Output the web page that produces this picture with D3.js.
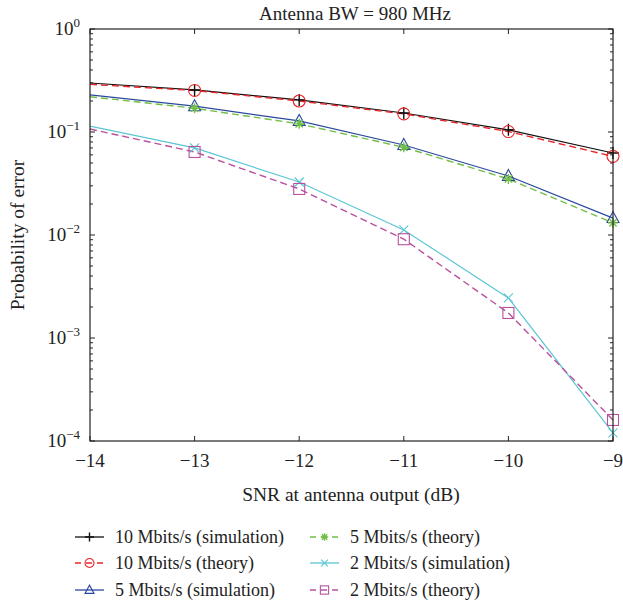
<!DOCTYPE html>
<html>
<head>
<meta charset="utf-8">
<script src="https://cdn.jsdelivr.net/npm/d3@7"></script>
<style>
  body { margin: 0; background: #fff; }
</style>
</head>
<body>
<div id="grafica"></div>
<script>
// ==============================
// DATOS
// ==============================
const snr = [-14, -13, -12, -11, -10, -9];
const sim10 = [0.299, 0.256, 0.205, 0.153, 0.105, 0.0625];
const teo10 = [0.290, 0.253, 0.200, 0.150, 0.101, 0.058];
const sim5 = [0.229, 0.178, 0.128, 0.0748, 0.0374, 0.0146];
const teo5 = [0.220, 0.170, 0.120, 0.071, 0.035, 0.0131];
const sim2 = [0.114, 0.070, 0.0327, 0.0112, 0.00245, 0.00012];
const teo2 = [0.107, 0.064, 0.028, 0.0091, 0.00175, 0.00016];
const xTicks = [-14, -13, -12, -11, -10, -9];
const yExps = [0, -1, -2, -3, -4];

const series = [
  { nombre: "10 Mbits/s (simulation)", valores: sim10, color: "#111", dash: null, marca: "plus" },
  { nombre: "10 Mbits/s (theory)", valores: teo10, color: "#e8262a", dash: "7,4", marca: "circle" },
  { nombre: "5 Mbits/s (simulation)", valores: sim5, color: "#2a4a9e", dash: null, marca: "triangle" },
  { nombre: "5 Mbits/s (theory)", valores: teo5, color: "#72bf44", dash: "7,4", marca: "star" },
  { nombre: "2 Mbits/s (simulation)", valores: sim2, color: "#5cc6d4", dash: null, marca: "cross" },
  { nombre: "2 Mbits/s (theory)", valores: teo2, color: "#b9519e", dash: "7,4", marca: "square" }
];

// ==============================
// SVG Y ESCALAS
// ==============================
const W = 623, H = 606;
const m = { left: 90, right: 613, top: 29, bottom: 441 };
const FUENTE = "Liberation Serif";
const colorTexto = "#222";

const svg = d3.select("#grafica").append("svg")
  .attr("width", W).attr("height", H);

const x = d3.scaleLinear().domain([-14, -9]).range([m.left, m.right]);
const y = d3.scaleLog().domain([1e-4, 1]).range([m.bottom, m.top]);

function texto(px, py, cadena, size, anchor) {
  return svg.append("text")
    .attr("x", px).attr("y", py)
    .attr("font-family", FUENTE)
    .attr("font-size", size)
    .attr("fill", colorTexto)
    .attr("text-anchor", anchor || "start")
    .text(cadena);
}

// ==============================
// EJES (ticks hacia dentro)
// ==============================
const ejes = svg.append("g").attr("stroke", "#222").attr("stroke-width", 1);

xTicks.forEach(t => {
  ejes.append("line").attr("x1", x(t)).attr("x2", x(t)).attr("y1", m.bottom).attr("y2", m.bottom - 5);
  ejes.append("line").attr("x1", x(t)).attr("x2", x(t)).attr("y1", m.top).attr("y2", m.top + 5);
});

const menores = [];
for (let e = -4; e < 0; e++) {
  for (let k = 2; k <= 9; k++) menores.push(k * Math.pow(10, e));
}
menores.forEach(v => {
  ejes.append("line").attr("x1", m.left).attr("x2", m.left + 3).attr("y1", y(v)).attr("y2", y(v));
  ejes.append("line").attr("x1", m.right).attr("x2", m.right - 3).attr("y1", y(v)).attr("y2", y(v));
});
yExps.forEach(e => {
  const v = Math.pow(10, e);
  ejes.append("line").attr("x1", m.left).attr("x2", m.left + 5).attr("y1", y(v)).attr("y2", y(v));
  ejes.append("line").attr("x1", m.right).attr("x2", m.right - 5).attr("y1", y(v)).attr("y2", y(v));
});

// ==============================
// LÍNEAS Y MARCADORES
// ==============================
const linea = d3.line().x((d, i) => x(snr[i])).y(d => y(d));
const plot = svg.append("g");

function dibujarMarca(g, tipo, cx, cy, color, k = 1) {
  const s = g.append("g").attr("transform", `translate(${cx},${cy}) scale(${k})`)
    .attr("stroke", color).attr("fill", "none").attr("stroke-width", 1.1 / k);
  if (tipo === "plus") {
    s.append("path").attr("d", "M-6,0H6M0,-6V6").attr("stroke-width", 1.4 / k);
  } else if (tipo === "circle") {
    s.append("circle").attr("r", 6);
  } else if (tipo === "triangle") {
    s.append("path").attr("d", "M0,-6.5L6,4.5L-6,4.5Z");
  } else if (tipo === "star") {
    s.append("path").attr("d", "M-5,0H5M0,-5V5M-3.6,-3.6L3.6,3.6M-3.6,3.6L3.6,-3.6").attr("stroke-width", 1.4 / k);
  } else if (tipo === "cross") {
    s.append("path").attr("d", "M-4.5,-4.5L4.5,4.5M-4.5,4.5L4.5,-4.5");
  } else if (tipo === "square") {
    s.append("rect").attr("x", -5.5).attr("y", -5.5).attr("width", 11).attr("height", 11);
  }
}

series.forEach(s => {
  plot.append("path")
    .datum(s.valores)
    .attr("d", linea)
    .attr("fill", "none")
    .attr("stroke", s.color)
    .attr("stroke-width", s.dash ? 1.4 : 1.2)
    .attr("stroke-dasharray", s.dash);
});
series.forEach(s => {
  s.valores.forEach((v, i) => {
    if (i === 0) return;
    dibujarMarca(plot, s.marca, x(snr[i]), y(v), s.color);
  });
});

// marco
svg.append("rect")
  .attr("x", m.left).attr("y", m.top)
  .attr("width", m.right - m.left).attr("height", m.bottom - m.top)
  .attr("fill", "none").attr("stroke", "#222").attr("stroke-width", 1.2);

// ==============================
// ETIQUETAS
// ==============================
xTicks.forEach(t => {
  texto(x(t), m.bottom + 26, "\u2212" + Math.abs(t), 19, "middle");
});

yExps.forEach(e => {
  const tx = texto(m.left - 10, y(Math.pow(10, e)) + 6, "", 19, "end");
  tx.append("tspan").text("10");
  tx.append("tspan").attr("dy", -8).attr("font-size", 13)
    .text(e === 0 ? "0" : "\u2212" + Math.abs(e));
});

texto(355, 20, "Antenna BW = 980 MHz", 19, "middle");
texto(351, 501, "SNR at antenna output (dB)", 19.5, "middle");
texto(0, 0, "Probability of error", 19.5, "middle")
  .attr("transform", `translate(24,${(m.top + m.bottom) / 2}) rotate(-90)`);

// ==============================
// LEYENDA
// ==============================
const posLeyenda = [
  [75, 537], [75, 563], [75, 590],
  [310, 537], [310, 563], [310, 590]
];
series.forEach((s, k) => {
  const [lx, ly] = posLeyenda[k];
  svg.append("line")
    .attr("x1", lx).attr("x2", lx + 29).attr("y1", ly).attr("y2", ly)
    .attr("stroke", s.color).attr("stroke-width", 1.3)
    .attr("stroke-dasharray", s.dash ? "6,5" : null);
  dibujarMarca(svg, s.marca, lx + 14.5, ly, s.color, 0.75);
  texto(lx + 40, ly + 6, s.nombre, 18);
});
</script>
</body>
</html>
